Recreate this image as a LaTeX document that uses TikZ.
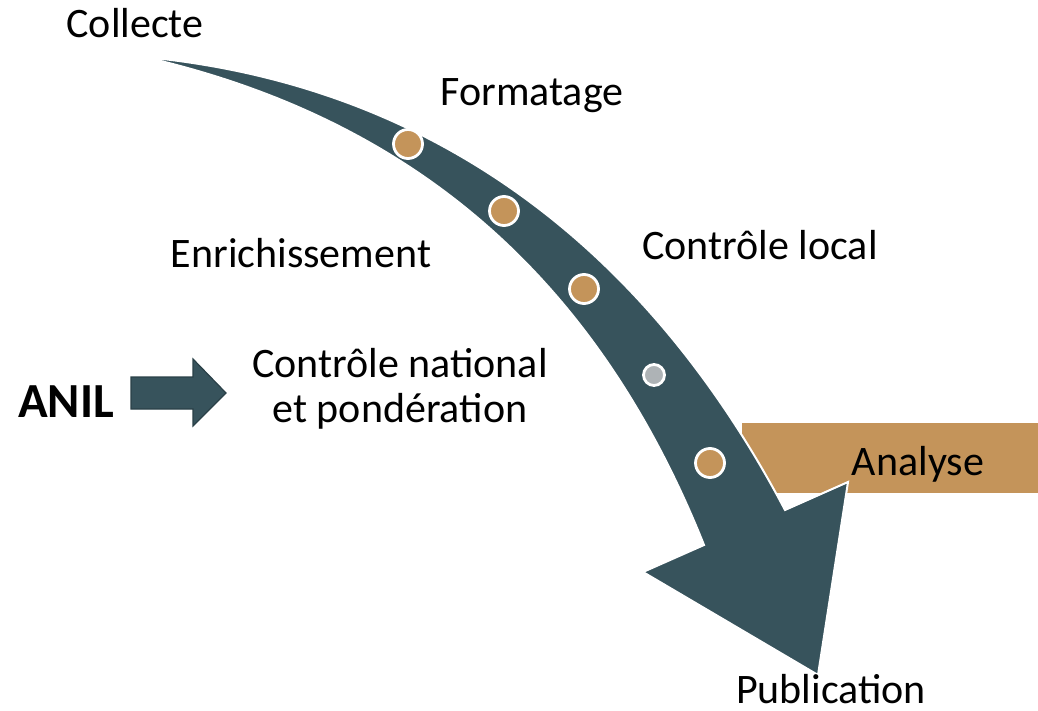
\documentclass[tikz,border=0pt]{standalone}
\usepackage{fontspec}
\setmainfont{Carlito}
\definecolor{teal}{HTML}{37535C}
\definecolor{tan}{HTML}{C4945A}
\definecolor{dotgray}{HTML}{AEB3B6}
\definecolor{tealline}{HTML}{2A4047}
\begin{document}
\begin{tikzpicture}[x=0.5pt,y=-0.5pt,
  lbl/.style={inner sep=0pt,font=\fontsize{21}{22.5}\selectfont},
  dot/.style={circle,fill=tan,draw=white,line width=1.4pt,inner sep=0pt},
]
\useasboundingbox (0,0) rectangle (1038,711);
% Analyse bar
\node[fill=tan,inner sep=0pt,minimum width=148pt,minimum height=35pt,anchor=north west] (bar) at (742,423) {};
% big curved arrow
\draw[fill=teal,draw=white,line width=1pt,line join=miter]
  (144,57) .. controls (420,83) and (640,235) .. (785,510)
  -- (848,482) -- (818,675) -- (643,572) -- (704,545)
  .. controls (600,285) and (420,120) .. (144,57) -- cycle;
% dots
\node[dot,minimum size=14.5pt] (d1) at (408,144) {};
\node[dot,minimum size=14.5pt] (d2) at (504,211) {};
\node[dot,minimum size=14.5pt] (d3) at (584,289) {};
\node[dot,minimum size=10.5pt,fill=dotgray] (d4) at (654,375) {};
\node[dot,minimum size=14.5pt] (d5) at (710,463) {};
% ANIL arrow
\draw[fill=teal,draw=tealline,line width=0.6pt]
  (131,377) -- (193,377) -- (193,359) -- (226,393) -- (193,426) -- (193,409) -- (131,409) -- cycle;
% labels
\node[lbl,anchor=base] (collecte) at (135,38) {Collecte};
\node[lbl,anchor=base] (format) at (532,106) {Formatage};
\node[lbl,anchor=base] (enrich) at (301,268) {Enrichissement};
\node[lbl,anchor=base] (ctrlloc) at (760,260) {Contrôle local};
\node[lbl,align=center,anchor=center] (ctrlnat) at (400,389) {Contrôle national\\et pondération};
\node[lbl,anchor=base] (analyse) at (918,475) {Analyse};
\node[lbl,anchor=base] (publi) at (831,703) {Publication};
\node[inner sep=0pt,font=\fontsize{24.5}{28}\selectfont\bfseries,anchor=base] (anil) at (66,417) {ANIL};
\end{tikzpicture}
\end{document}
